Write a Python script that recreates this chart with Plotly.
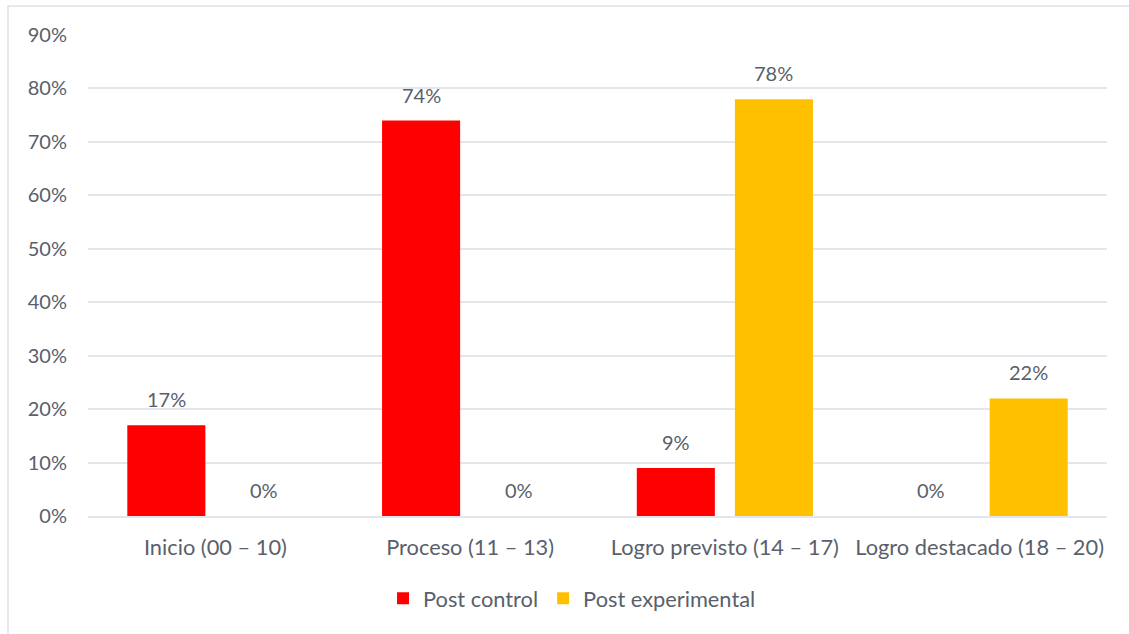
import plotly.graph_objects as go

categories = ["Inicio (00 – 10)", "Proceso (11 – 13)", "Logro previsto (14 – 17)", "Logro destacado (18 – 20)"]
post_control = [17, 74, 9, 0]
post_experimental = [0, 0, 78, 22]
y_ticks = [0, 10, 20, 30, 40, 50, 60, 70, 80, 90]

TEXT = "#595f6b"
FONT = "Lato"
SIZE = 20
WORD_SIZE = 21.8

fig = go.Figure()
fig.add_trace(go.Bar(name="Post control", x=categories, y=post_control,
                     marker=dict(color="#FF0000", line=dict(width=0))))
fig.add_trace(go.Bar(name="Post experimental", x=categories, y=post_experimental,
                     marker=dict(color="#FFC000", line=dict(width=0))))

# value labels above each bar
annotations = []
for series, shift in ((post_control, -49), (post_experimental, 49)):
    for cat, v in zip(categories, series):
        annotations.append(dict(x=cat, y=v, xref="x", yref="y", text=f"{v}%",
                                showarrow=False, yanchor="bottom", yshift=12,
                                xshift=shift, font=dict(family=FONT, size=SIZE, color=TEXT)))

fig.update_layout(
    width=1129, height=634,
    margin=dict(l=88, r=22, t=35, b=118),
    paper_bgcolor="white", plot_bgcolor="white",
    barmode="group", bargap=0.23, bargroupgap=0.204,
    font=dict(family=FONT, size=SIZE, color=TEXT),
    showlegend=True,
    legend=dict(orientation="h", x=0.475, xanchor="center", y=-0.128, yanchor="top",
                font=dict(family=FONT, size=WORD_SIZE, color=TEXT), itemwidth=30,
                traceorder="normal"),
    annotations=annotations,
    shapes=[dict(type="rect", xref="paper", yref="paper", x0=-0.0785, x1=1.05,
                 y0=-0.3, y1=1.0603, line=dict(color="#dde2e8", width=1.5),
                 fillcolor="rgba(0,0,0,0)", layer="below")],
)
fig.update_yaxes(range=[0, 90], tickvals=y_ticks, ticktext=[f"{t}%" for t in y_ticks],
                 showgrid=True, gridcolor="#e3e7ec", gridwidth=1.5, zeroline=False,
                 showline=False, ticks="", ticklabelstandoff=20,
                 tickfont=dict(family=FONT, size=SIZE, color=TEXT))
fig.update_xaxes(showline=True, linecolor="#e3e7ec", linewidth=1.5, ticks="",
                 ticklabelstandoff=11, tickfont=dict(family=FONT, size=WORD_SIZE, color=TEXT))

fig.write_html("out.html")
